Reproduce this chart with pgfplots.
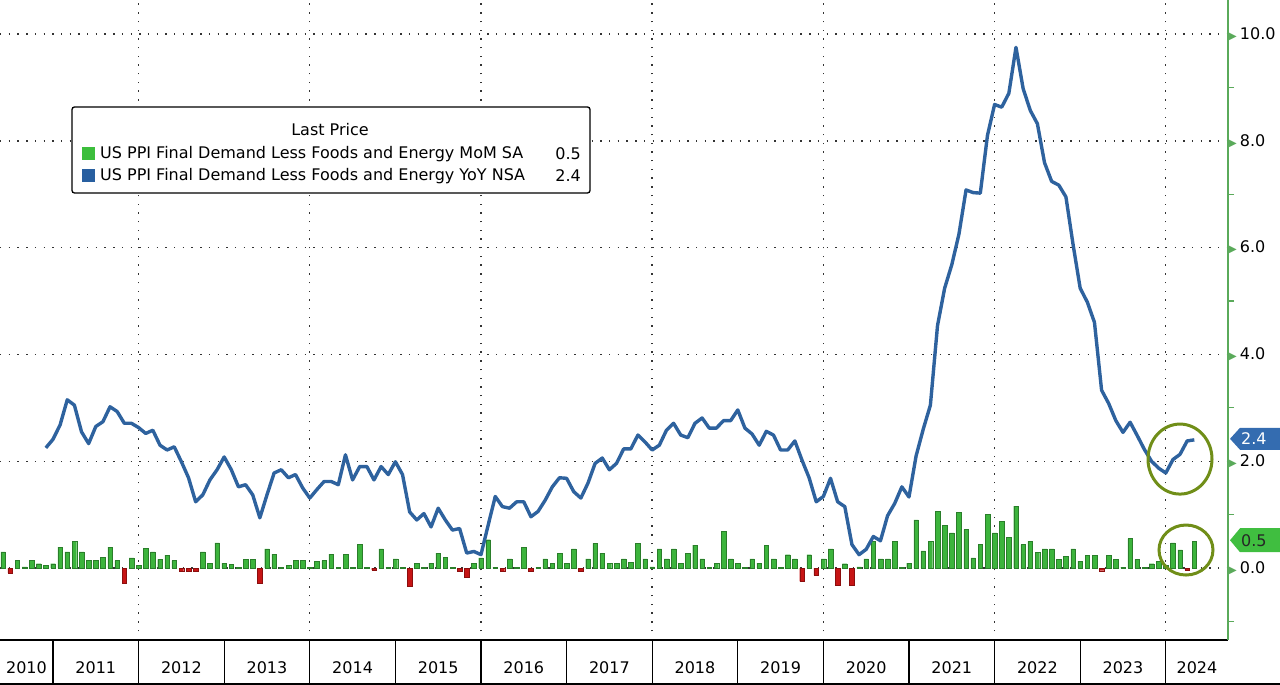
\documentclass[border=0pt]{standalone}
\usepackage{fontspec}
\setmainfont{DejaVu Sans}
\usepackage{pgfplots}
\pgfplotsset{compat=1.18}
\usepackage{pgfplotstable}

\definecolor{barGreen}{RGB}{60,180,60}
\definecolor{barRed}{RGB}{198,20,20}
\definecolor{lineBlue}{RGB}{46,98,158}
\definecolor{axGreen}{RGB}{90,170,90}
\definecolor{circ}{RGB}{112,142,24}
\definecolor{badgeBlue}{RGB}{52,108,176}
\definecolor{badgeGreen}{RGB}{64,190,64}
\definecolor{legGreen}{RGB}{60,190,60}
\definecolor{legBlue}{RGB}{40,95,160}
\newcommand{\lf}{\fontsize{16bp}{19bp}\selectfont}

% YoY NSA, Nov 2010 -- Apr 2024
\pgfplotstableread[row sep=\\]{
v\\
2.25\\ 2.41\\
2.68\\ 3.15\\ 3.05\\ 2.55\\ 2.33\\ 2.65\\ 2.74\\ 3.02\\ 2.93\\ 2.71\\ 2.71\\ 2.63\\
2.52\\ 2.58\\ 2.30\\ 2.21\\ 2.27\\ 1.99\\ 1.69\\ 1.24\\ 1.37\\ 1.65\\ 1.84\\ 2.08\\
1.84\\ 1.52\\ 1.56\\ 1.37\\ 0.94\\ 1.37\\ 1.78\\ 1.84\\ 1.69\\ 1.75\\ 1.50\\ 1.31\\
1.47\\ 1.62\\ 1.62\\ 1.56\\ 2.12\\ 1.65\\ 1.90\\ 1.90\\ 1.65\\ 1.90\\ 1.75\\ 1.99\\
1.75\\ 1.05\\ 0.90\\ 1.02\\ 0.77\\ 1.12\\ 0.90\\ 0.71\\ 0.74\\ 0.28\\ 0.31\\ 0.25\\
0.80\\ 1.34\\ 1.15\\ 1.12\\ 1.24\\ 1.24\\ 0.96\\ 1.06\\ 1.27\\ 1.52\\ 1.69\\ 1.68\\
1.43\\ 1.31\\ 1.59\\ 1.96\\ 2.06\\ 1.84\\ 1.96\\ 2.23\\ 2.23\\ 2.49\\ 2.36\\ 2.21\\
2.30\\ 2.58\\ 2.71\\ 2.49\\ 2.44\\ 2.71\\ 2.81\\ 2.62\\ 2.62\\ 2.76\\ 2.76\\ 2.96\\
2.62\\ 2.51\\ 2.30\\ 2.56\\ 2.49\\ 2.21\\ 2.21\\ 2.38\\ 2.02\\ 1.69\\ 1.24\\ 1.34\\
1.68\\ 1.24\\ 1.15\\ 0.44\\ 0.25\\ 0.35\\ 0.59\\ 0.51\\ 0.98\\ 1.21\\ 1.52\\ 1.33\\
2.10\\ 2.60\\ 3.05\\ 4.54\\ 5.24\\ 5.68\\ 6.25\\ 7.08\\ 7.03\\ 7.02\\ 8.10\\ 8.68\\
8.63\\ 8.89\\ 9.75\\ 8.98\\ 8.57\\ 8.32\\ 7.59\\ 7.24\\ 7.17\\ 6.95\\ 6.06\\ 5.24\\
4.98\\ 4.60\\ 3.33\\ 3.08\\ 2.76\\ 2.54\\ 2.73\\ 2.48\\ 2.22\\ 2.00\\ 1.87\\ 1.78\\
2.03\\ 2.13\\ 2.38\\ 2.40\\
}\yoy

% MoM SA, May 2010 -- Apr 2024
\pgfplotstableread[row sep=\\]{
v\\
0.30\\ -0.09\\ 0.14\\ 0.02\\ 0.14\\ 0.08\\ 0.05\\ 0.08\\
0.39\\ 0.30\\ 0.50\\ 0.30\\ 0.14\\ 0.14\\ 0.20\\ 0.39\\ 0.14\\ -0.28\\ 0.19\\ 0.05\\
0.37\\ 0.30\\ 0.16\\ 0.24\\ 0.14\\ -0.06\\ -0.06\\ -0.06\\ 0.30\\ 0.09\\ 0.47\\ 0.09\\
0.07\\ 0.01\\ 0.16\\ 0.16\\ -0.28\\ 0.36\\ 0.26\\ 0.01\\ 0.05\\ 0.14\\ 0.14\\ 0.01\\
0.13\\ 0.14\\ 0.26\\ 0.01\\ 0.26\\ 0.01\\ 0.44\\ 0.01\\ -0.04\\ 0.36\\ 0.01\\ 0.17\\
0.01\\ -0.34\\ 0.09\\ 0.01\\ 0.09\\ 0.28\\ 0.20\\ 0.01\\ -0.06\\ -0.17\\ 0.09\\ 0.19\\
0.53\\ 0.01\\ -0.06\\ 0.17\\ 0.01\\ 0.39\\ -0.06\\ 0.01\\ 0.17\\ 0.09\\ 0.28\\ 0.09\\
0.36\\ -0.06\\ 0.17\\ 0.46\\ 0.28\\ 0.09\\ 0.09\\ 0.17\\ 0.11\\ 0.46\\ 0.17\\ 0.02\\
0.36\\ 0.17\\ 0.36\\ 0.09\\ 0.27\\ 0.43\\ 0.17\\ 0.01\\ 0.09\\ 0.69\\ 0.17\\ 0.09\\
0.01\\ 0.17\\ 0.09\\ 0.43\\ 0.17\\ 0.01\\ 0.25\\ 0.17\\ -0.25\\ 0.25\\ -0.14\\ 0.17\\
0.36\\ -0.32\\ 0.08\\ -0.32\\ 0.02\\ 0.17\\ 0.50\\ 0.17\\ 0.17\\ 0.50\\ 0.01\\ 0.09\\
0.90\\ 0.32\\ 0.50\\ 1.06\\ 0.80\\ 0.66\\ 1.04\\ 0.72\\ 0.19\\ 0.44\\ 1.00\\ 0.66\\
0.88\\ 0.57\\ 1.16\\ 0.44\\ 0.50\\ 0.29\\ 0.36\\ 0.36\\ 0.16\\ 0.22\\ 0.36\\ 0.13\\
0.24\\ 0.24\\ -0.05\\ 0.24\\ 0.16\\ 0.01\\ 0.55\\ 0.16\\ 0.01\\ 0.08\\ 0.13\\ 0.05\\
0.47\\ 0.34\\ -0.04\\ 0.50\\
}\mom

\begin{document}
\begin{tikzpicture}
\path[use as bounding box] (0bp,0bp) rectangle (1280bp,685bp);
\clip (0bp,0bp) rectangle (1280bp,685bp);
% x = years since 2010
\begin{axis}[
  at={(0bp,45bp)}, anchor=south west,
  width=1228bp, height=640bp, scale only axis,
  xmin=0.381, xmax=14.727,
  ymin=-1.348, ymax=10.637,
  axis x line*=bottom, axis y line*=right,
  x axis line style={black, line width=1.3bp, -},
  y axis line style={axGreen, line width=1.3bp, -},
  xtick={0.69,1.5,2.5,3.5,4.5,5.5,6.5,7.5,8.5,9.5,10.5,11.5,12.5,13.5,14.364},
  xticklabels={2010,2011,2012,2013,2014,2015,2016,2017,2018,2019,2020,2021,2022,2023,2024},
  minor xtick={2,4,6,8,10,12,14},
  xminorgrids,
  ytick={0,2,4,6,8,10},
  minor ytick={-1,1,3,5,7,9},
  ymajorgrids,
  major tick length=0pt, minor tick length=6bp,
  tick align=outside,
  minor y tick style={axGreen, line width=1.2bp},
  minor x tick style={draw=none},
  major grid style={black!80, line width=1.4bp, dash pattern=on 1.4bp off 7.3bp},
  minor grid style={black!80, line width=1.4bp, dash pattern=on 1.4bp off 7.3bp},
  /pgf/number format/assume math mode=true,
  yticklabel={\textcolor{axGreen}{\fontsize{10bp}{10bp}\selectfont ▶}\kern3bp\pgfmathprintnumber[fixed,fixed zerofill,precision=1]{\tick}},
  ticklabel style={font=\lf},
  xticklabel style={anchor=base, yshift=-33.5bp},
  yticklabel style={anchor=west, inner xsep=0pt, xshift=1bp},
  clip=false,
]
\addplot[ybar, bar width=4.6bp, bar shift=0pt, fill=barGreen, draw=barGreen!70!black, line width=0.3bp,
  restrict y to domain=0:5] table[x expr={(\coordindex+5)/12}, y=v] {\mom};
\addplot[ybar, bar width=4.6bp, bar shift=0pt, fill=barRed, draw=barRed!70!black, line width=0.3bp,
  restrict y to domain=-5:0] table[x expr={(\coordindex+5)/12}, y=v] {\mom};
\addplot[lineBlue, line width=3.4bp, line join=round, no markers]
  table[x expr={(\coordindex+11)/12}, y=v] {\yoy};

\pgfplotsinvokeforeach{1,2,3,4,5,6,7,8,9,10,11,12,13,14}{
  \draw[black, line width=1.2bp] (axis cs:#1,-1.348) -- ++(0bp,-45bp);
}
\draw[black, line width=1.6bp] (axis cs:0.381,-1.348) ++(0bp,-44.2bp) -- ++(1280bp,0bp);

\fill[badgeBlue] (axis cs:14.727,2.42) ++(2bp,0bp) -- ++(10bp,11bp) -- ++(60bp,0bp) -- ++(0bp,-22bp) -- ++(-60bp,0bp) -- cycle;
\node[white, anchor=west, font=\lf, inner sep=0pt, xshift=13bp] at (axis cs:14.727,2.42) {2.4};
\fill[badgeGreen] (axis cs:14.727,0.52) ++(2bp,0bp) -- ++(10bp,12bp) -- ++(60bp,0bp) -- ++(0bp,-24bp) -- ++(-60bp,0bp) -- cycle;
\node[black!85, anchor=west, font=\lf, inner sep=0pt, xshift=13bp] at (axis cs:14.727,0.52) {0.5};

\draw[circ, line width=3bp] (axis cs:14.166,2.04) ellipse [x radius=32bp, y radius=35bp];
\draw[circ, line width=3bp] (axis cs:14.236,0.337) ellipse [x radius=27bp, y radius=25bp];
\end{axis}

% legend
\draw[black, line width=1.3bp, fill=white, rounded corners=2.5bp] (72bp,578bp) rectangle (590bp,492bp);
\node[font=\lf] at (330bp,555bp) {Last Price};
\fill[legGreen] (82bp,524.5bp) rectangle (95bp,537.5bp);
\node[anchor=west, font=\lf, inner xsep=0pt] at (100bp,531bp) {US PPI Final Demand Less Foods and Energy MoM SA};
\node[anchor=east, font=\lf, inner xsep=0pt] at (581bp,531bp) {0.5};
\fill[legBlue] (82bp,502.5bp) rectangle (95bp,515.5bp);
\node[anchor=west, font=\lf, inner xsep=0pt] at (100bp,509bp) {US PPI Final Demand Less Foods and Energy YoY NSA};
\node[anchor=east, font=\lf, inner xsep=0pt] at (581bp,509bp) {2.4};
\end{tikzpicture}
\end{document}
